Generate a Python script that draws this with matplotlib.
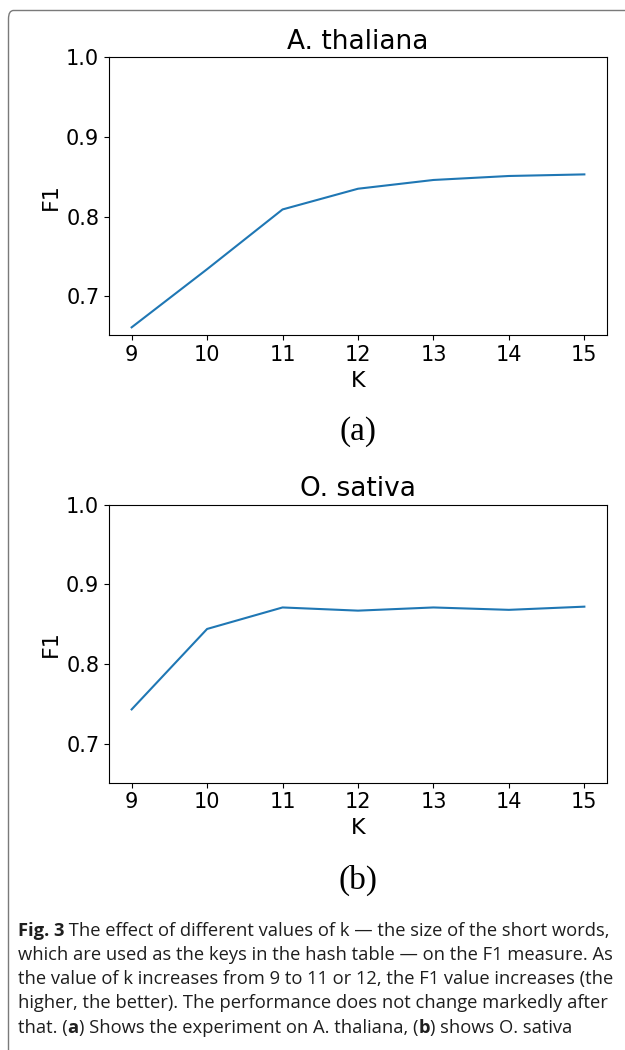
import matplotlib
matplotlib.use("Agg")
import matplotlib.pyplot as plt
from matplotlib.patches import FancyBboxPatch

# k values and F1 scores
k_values = [9, 10, 11, 12, 13, 14, 15]
f1_thaliana = [0.661, 0.734, 0.809, 0.835, 0.846, 0.851, 0.853]
f1_sativa = [0.743, 0.844, 0.871, 0.867, 0.871, 0.868, 0.872]
panel_titles = ["A. thaliana", "O. sativa"]
panel_tags = ["(a)", "(b)"]

# caption lines, split in (text, bold) pieces
caption = [
    [("Fig. 3", True), (" The effect of different values of k \u2014 the size of the short words,", False)],
    [("which are used as the keys in the hash table \u2014 on the F1 measure. As", False)],
    [("the value of k increases from 9 to 11 or 12, the F1 value increases (the", False)],
    [("higher, the better). The performance does not change markedly after", False)],
    [("that. (", False), ("a", True), (") Shows the experiment on A. thaliana, (", False),
     ("b", True), (") shows O. sativa", False)],
]

W, H = 625, 1050
fig = plt.figure(figsize=(W / 100, H / 100), dpi=100)

def place_axes(top_px, bottom_px, left_px=109, right_px=607):
    return fig.add_axes([left_px / W, 1 - bottom_px / H,
                         (right_px - left_px) / W, (bottom_px - top_px) / H])

ax_a = place_axes(57.3, 335.3)
ax_b = place_axes(504.7, 782.7)

for ax, y, title in zip([ax_a, ax_b], [f1_thaliana, f1_sativa], panel_titles):
    ax.plot(k_values, y, color="#1f77b4", lw=1.5)
    ax.set_ylim(0.651, 1.0)
    ax.set_yticks([0.7, 0.8, 0.9, 1.0])
    ax.set_xticks(k_values)
    ax.tick_params(labelsize=15)
    ax.set_xlabel("K", fontsize=16)
    ax.set_ylabel("F1", fontsize=16)
    ax.set_title(title, fontsize=19)

# panel tags in a serif face
fig.text(358 / W, 1 - 432 / H, panel_tags[0], fontsize=24, family="Liberation Serif",
         ha="center", va="center")
fig.text(358 / W, 1 - 880 / H, panel_tags[1], fontsize=24, family="Liberation Serif",
         ha="center", va="center")

# frame around the figure
frame = FancyBboxPatch((8.5 / W, -0.05), 1.2, 1 - 10.5 / H + 0.05,
                       boxstyle="round,pad=0,rounding_size=0.008",
                       transform=fig.transFigure, fill=False,
                       edgecolor="#7a7a7a", lw=1.0, zorder=0)
fig.add_artist(frame)

# caption, piece by piece so the bold parts sit on the same baseline
renderer = fig.canvas.get_renderer()
cap_font = "Open Sans"
cap_size = 13.2
for i, line in enumerate(caption):
    base = 935.5 + 24.3 * i
    x = 18
    for txt, bold in line:
        t = fig.text(x / W, 1 - base / H, txt, fontsize=cap_size, family=cap_font,
                     weight="bold" if bold else "normal", va="baseline", ha="left",
                     color="#1e1e1e")
        bb = t.get_window_extent(renderer)
        x += bb.width

fig.savefig("out.png", dpi=100)
